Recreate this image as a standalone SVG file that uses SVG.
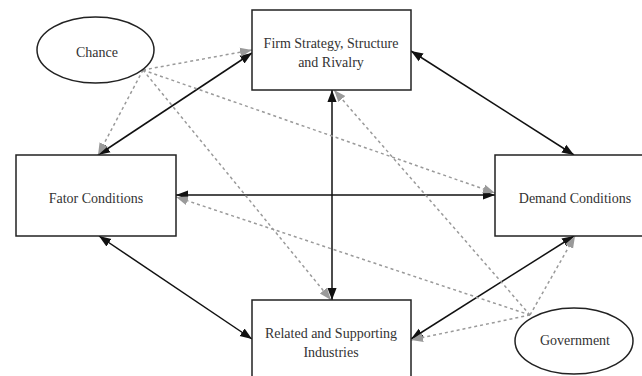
<svg xmlns="http://www.w3.org/2000/svg" width="642" height="376" viewBox="0 0 642 376">
<style>
.box{fill:#fff;stroke:#222;stroke-width:1.5}
.t{font-family:'Liberation Serif','Times New Roman','DejaVu Serif',serif;font-size:14px;fill:#333;text-anchor:middle}
.solid{stroke:#111;stroke-width:1.5;fill:none;marker-start:url(#bs);marker-end:url(#be)}
.dot{stroke:#9a9a9a;stroke-width:1.5;stroke-dasharray:3 3;fill:none;marker-end:url(#ge)}
</style>
<defs>
<marker id="be" viewBox="0 0 10 10" refX="10" refY="5" markerWidth="12" markerHeight="12" markerUnits="userSpaceOnUse" orient="auto"><path d="M0,1.2 L10,5 L0,8.8 z" fill="#111"/></marker>
<marker id="bs" viewBox="0 0 10 10" refX="0" refY="5" markerWidth="12" markerHeight="12" markerUnits="userSpaceOnUse" orient="auto"><path d="M10,1.2 L0,5 L10,8.8 z" fill="#111"/></marker>
<marker id="ge" viewBox="0 0 10 10" refX="10" refY="5" markerWidth="12" markerHeight="12" markerUnits="userSpaceOnUse" orient="auto"><path d="M0,1.2 L10,5 L0,8.8 z" fill="#9a9a9a"/></marker>
</defs>
<rect width="642" height="376" fill="#fff"/>
<g id="connectors">
<line class="solid" x1="98" y1="155" x2="252" y2="53"/>
<line class="solid" x1="411" y1="51" x2="574" y2="155"/>
<line class="solid" x1="176" y1="195" x2="495" y2="195"/>
<line class="solid" x1="332" y1="90" x2="332" y2="300"/>
<line class="solid" x1="99" y1="236" x2="252" y2="339"/>
<line class="solid" x1="574" y1="236" x2="411" y2="339"/>
<line class="dot" x1="143" y1="70" x2="252" y2="50"/>
<line class="dot" x1="143" y1="70" x2="98" y2="155"/>
<line class="dot" x1="143" y1="70" x2="495" y2="193"/>
<line class="dot" x1="143" y1="70" x2="331" y2="300"/>
<line class="dot" x1="530" y1="315" x2="334" y2="90"/>
<line class="dot" x1="530" y1="315" x2="176" y2="197"/>
<line class="dot" x1="530" y1="315" x2="575" y2="236"/>
<line class="dot" x1="530" y1="315" x2="411" y2="340"/>
</g>
<g id="chance">
<ellipse class="box" cx="95.5" cy="50" rx="58.5" ry="33" style="fill:none"/>
<text class="t" x="97" y="57">Chance</text>
</g>
<g id="firm">
<rect class="box" x="252" y="10" width="159" height="80"/>
<text class="t" x="331" y="48">Firm Strategy, Structure</text>
<text class="t" x="331" y="67">and Rivalry</text>
</g>
<g id="fator">
<rect class="box" x="16" y="155" width="160" height="81"/>
<text class="t" x="96" y="203">Fator Conditions</text>
</g>
<g id="demand">
<rect class="box" x="495" y="155" width="160" height="81"/>
<text class="t" x="575" y="203">Demand Conditions</text>
</g>
<g id="related">
<rect class="box" x="252" y="300" width="159" height="90"/>
<text class="t" x="331" y="338">Related and Supporting</text>
<text class="t" x="331" y="357">Industries</text>
</g>
<g id="government">
<ellipse class="box" cx="574" cy="341" rx="59" ry="33"/>
<text class="t" x="575" y="345">Government</text>
</g>
</svg>
